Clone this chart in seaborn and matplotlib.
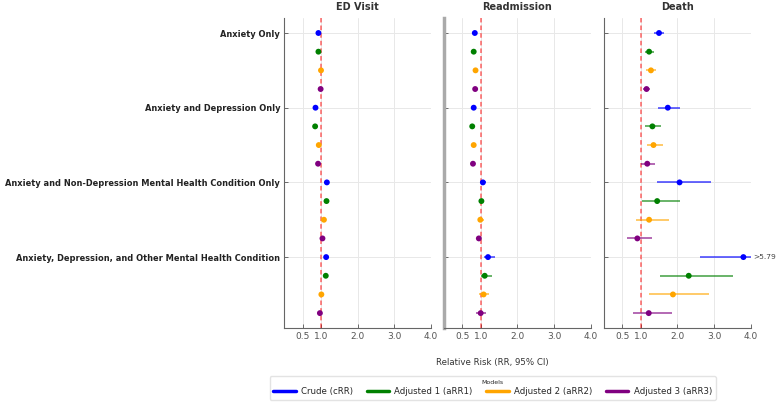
import numpy as np
import pandas as pd
import seaborn as sns
import matplotlib.pyplot as plt

# Datos
categories = [
    "Anxiety Only",
    "Anxiety and Depression Only",
    "Anxiety and Non-Depression Mental Health Condition Only",
    "Anxiety, Depression, and Other Mental Health Condition",
]
models = ["Crude (cRR)", "Adjusted 1 (aRR1)", "Adjusted 2 (aRR2)", "Adjusted 3 (aRR3)"]
colors = ["blue", "green", "orange", "purple"]
outcomes = ["ED Visit", "Readmission", "Death"]

# RR, limite inferior, limite superior (fila = categoria, columna = modelo)
ed_rr = [[0.93, 0.93, 1.00, 0.99],
         [0.85, 0.84, 0.94, 0.92],
         [1.16, 1.15, 1.08, 1.04],
         [1.14, 1.13, 1.01, 0.97]]
ed_lo = [[0.91, 0.91, 0.98, 0.97],
         [0.83, 0.82, 0.92, 0.89],
         [1.13, 1.12, 1.05, 1.01],
         [1.10, 1.09, 0.97, 0.93]]
ed_hi = [[0.95, 0.95, 1.02, 1.01],
         [0.87, 0.86, 0.96, 0.95],
         [1.19, 1.18, 1.11, 1.07],
         [1.18, 1.17, 1.05, 1.01]]

re_rr = [[0.84, 0.81, 0.86, 0.85],
         [0.81, 0.77, 0.81, 0.79],
         [1.06, 1.02, 0.99, 0.95],
         [1.20, 1.11, 1.08, 1.00]]
re_lo = [[0.82, 0.79, 0.84, 0.83],
         [0.79, 0.75, 0.79, 0.77],
         [0.98, 0.96, 0.92, 0.89],
         [1.08, 1.00, 0.95, 0.87]]
re_hi = [[0.86, 0.83, 0.88, 0.87],
         [0.83, 0.79, 0.83, 0.81],
         [1.15, 1.10, 1.08, 0.99],
         [1.38, 1.30, 1.22, 1.14]]

de_rr = [[1.50, 1.23, 1.28, 1.16],
         [1.74, 1.32, 1.35, 1.18],
         [2.06, 1.45, 1.23, 0.91],
         [3.80, 2.31, 1.88, 1.22]]
de_lo = [[1.36, 1.12, 1.15, 1.07],
         [1.48, 1.12, 1.16, 1.00],
         [1.45, 1.03, 0.87, 0.62],
         [2.62, 1.53, 1.23, 0.80]]
de_hi = [[1.64, 1.36, 1.42, 1.25],
         [2.06, 1.55, 1.60, 1.38],
         [2.92, 2.07, 1.77, 1.30],
         [5.79, 3.52, 2.87, 1.86]]

x_ticks = [0.5, 1.0, 2.0, 3.0, 4.0]
x_max = 4.0

rows = []
for outcome, rr, lo, hi in zip(outcomes, [ed_rr, re_rr, de_rr], [ed_lo, re_lo, de_lo], [ed_hi, re_hi, de_hi]):
    for i, cat in enumerate(categories):
        for j, model in enumerate(models):
            rows.append({"outcome": outcome, "category": cat, "model": model,
                         "y": i + j * 0.25, "rr": rr[i][j], "lo": lo[i][j], "hi": hi[i][j]})
df = pd.DataFrame(rows)

sns.set_style("whitegrid")
plt.rcParams['font.family'] = ['DejaVu Sans']
palette = dict(zip(models, colors))

fig = plt.figure(figsize=(7.77, 4.05), dpi=100)
lefts = [0.3659, 0.5714, 0.7773]
axes = [fig.add_axes([l, 0.190, 0.1889, 0.7654]) for l in lefts]

for k, (ax, outcome) in enumerate(zip(axes, outcomes)):
    d = df[df["outcome"] == outcome]
    for model in models:
        m = d[d["model"] == model]
        ax.hlines(m["y"], m["lo"], np.minimum(m["hi"], x_max), color=palette[model], lw=1.1, alpha=0.75, zorder=2)
    sns.scatterplot(data=d, x="rr", y="y", hue="model", palette=palette, s=18,
                    edgecolor="none", legend=False, ax=ax, zorder=3)
    # valores que se salen del eje
    for _, r in d[d["hi"] > x_max].iterrows():
        ax.text(x_max + 0.08, r["y"], f">{r['hi']:.2f}", va="center", ha="left", fontsize=5.4, color="#444444")
    ax.axvline(1.0, color="red", ls=(0, (3, 2)), lw=1.1, alpha=0.6, zorder=1)
    ax.set_xlim(0, x_max)
    ax.set_ylim(3.95, -0.2)
    ax.set_xticks(x_ticks)
    ax.set_xticklabels([f"{t:.1f}" for t in x_ticks], fontsize=6.5, color="#333333")
    ax.set_yticks(range(len(categories)))
    ax.set_title(outcome, fontsize=7, fontweight="bold", color="#333333", pad=6)
    ax.set_xlabel("")
    ax.set_ylabel("")
    ax.grid(True, color="#e8e8e8", lw=0.7)
    ax.tick_params(direction="in", length=3, width=0.6, colors="#555555", left=True, bottom=True, pad=3)
    for s in ["top", "right"]:
        ax.spines[s].set_visible(False)
    ax.spines["bottom"].set_color("#666666")
    ax.spines["left"].set_color("#666666")
    if k == 0:
        ax.set_yticklabels(categories, fontsize=5.95, fontweight="bold", color="#222222")
    else:
        ax.set_yticklabels([])
    if k == 1:
        ax.spines["left"].set_color("#aaaaaa")
        ax.spines["left"].set_linewidth(2.5)

fig.text(0.634, 0.105, "Relative Risk (RR, 95% CI)", ha="center", va="center", fontsize=6.2, color="#333333")

handles = [plt.Line2D([0], [0], color=c, lw=2.5) for c in colors]
fig.legend(handles, models, title="Models", ncol=4, loc="center", bbox_to_anchor=(0.634, 0.042),
           fontsize=6.2, title_fontsize=4.5, frameon=True, edgecolor="#dddddd", handlelength=2.6,
           handletextpad=0.6, columnspacing=1.6, borderpad=0.45, labelspacing=0.2)

plt.savefig("out.png", dpi=100)
